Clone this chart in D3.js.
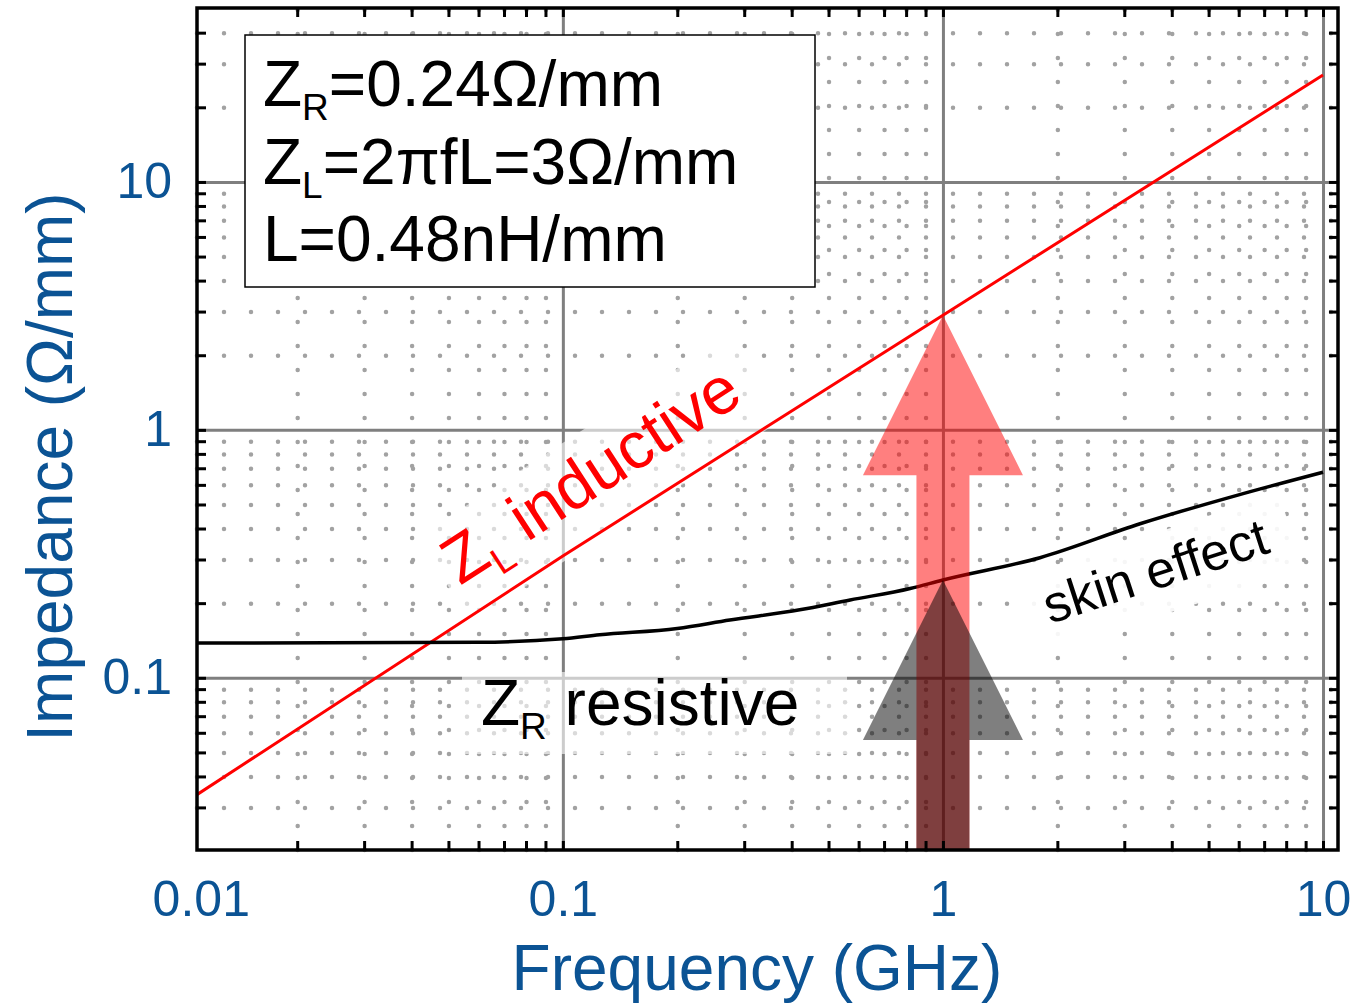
<!DOCTYPE html>
<html>
<head>
<meta charset="utf-8">
<script src="https://cdn.jsdelivr.net/npm/d3@7"></script>
<style>
  body { margin: 0; background: #fff; }
  svg text { font-family: Arial, "Liberation Sans", sans-serif; }
</style>
</head>
<body>
<script>
// Series (frequency in GHz, impedance in ohm/mm)
const freqL = [0.01, 0.1, 1, 10];
const zL = [0.031, 0.31, 2.9, 27];
const freqR = [0.01, 0.06, 0.1, 0.125, 0.2, 0.275, 0.42, 0.57, 0.82, 1, 1.8, 3.3, 6, 10];
const zR = [0.138, 0.139, 0.1436, 0.149, 0.158, 0.171, 0.188, 0.206, 0.229, 0.248, 0.305, 0.418, 0.547, 0.675];

// Axis ticks
const xMajor = [0.01, 0.1, 1, 10];
const xLabels = ["0.01", "0.1", "1", "10"];
const xMinor = [0.02, 0.03, 0.04, 0.05, 0.06, 0.07, 0.08, 0.09,
                0.2, 0.3, 0.4, 0.5, 0.6, 0.7, 0.8, 0.9,
                2, 3, 4, 5, 6, 7, 8, 9];
const yMajor = [0.1, 1, 10];
const yLabels = ["0.1", "1", "10"];
const yMinor = [0.03, 0.04, 0.05, 0.06, 0.07, 0.08, 0.09,
                0.2, 0.3, 0.4, 0.5, 0.6, 0.7, 0.8, 0.9,
                2, 3, 4, 5, 6, 7, 8, 9, 20, 30, 40];

const infoLines = [["Z", "R", "=0.24Ω/mm"], ["Z", "L", "=2πfL=3Ω/mm"], ["L=0.48nH/mm", "", ""]];

function drawChart() {
  var W = 1365, H = 1006;
  var left = 197, right = 1338, top = 8, bottom = 850;
  var blue = "#0b5394";

  var x = d3.scaleLog().domain([0.0109, 10.95]).range([left, right]);
  var y = d3.scaleLog().domain([0.0202, 50.3]).range([bottom, top]);

  // only decades that fall inside the plot get a grid line
  var xGrid = xMajor.filter(v => v >= x.domain()[0] && v <= x.domain()[1]);

  var svg = d3.select("body").append("svg")
    .attr("width", W).attr("height", H);

  // minor grid (dotted)
  svg.append("g")
    .attr("transform", "translate(0," + bottom + ")")
    .call(d3.axisBottom(x).tickValues(xMinor).tickSize(-(bottom - top)).tickFormat(""))
    .call(g => g.select(".domain").remove())
    .selectAll("line").attr("stroke", "#a2a2a2").attr("stroke-width", 4.5)
    .attr("stroke-dasharray", "0,24").attr("stroke-linecap", "round");
  svg.append("g")
    .attr("transform", "translate(" + left + ",0)")
    .call(d3.axisLeft(y).tickValues(yMinor).tickSize(-(right - left)).tickFormat(""))
    .call(g => g.select(".domain").remove())
    .selectAll("line").attr("stroke", "#a2a2a2").attr("stroke-width", 4.5)
    .attr("stroke-dasharray", "0,27").attr("stroke-linecap", "round");

  // major grid
  svg.append("g")
    .attr("transform", "translate(0," + bottom + ")")
    .call(d3.axisBottom(x).tickValues(xGrid).tickSize(-(bottom - top)).tickFormat(""))
    .call(g => g.select(".domain").remove())
    .selectAll("line").attr("stroke", "#7f7f7f").attr("stroke-width", 3);
  svg.append("g")
    .attr("transform", "translate(" + left + ",0)")
    .call(d3.axisLeft(y).tickValues(yMajor).tickSize(-(right - left)).tickFormat(""))
    .call(g => g.select(".domain").remove())
    .selectAll("line").attr("stroke", "#7f7f7f").attr("stroke-width", 3);

  // faded backgrounds behind the annotations
  svg.append("rect")
    .attr("x", 462).attr("y", 672).attr("width", 385).attr("height", 82)
    .attr("fill", "#fff").attr("opacity", 0.6);
  svg.append("rect")
    .attr("transform", "translate(460,586) rotate(-33)")
    .attr("x", -10).attr("y", -64).attr("width", 375).attr("height", 100)
    .attr("fill", "#fff").attr("opacity", 0.6);
  svg.append("rect")
    .attr("transform", "translate(1050,624) rotate(-18)")
    .attr("x", -12).attr("y", -54).attr("width", 270).attr("height", 80)
    .attr("fill", "#fff").attr("opacity", 0.9);

  // data lines
  svg.append("clipPath").attr("id", "plotclip")
    .append("rect").attr("x", left).attr("y", top)
    .attr("width", right - left).attr("height", bottom - top);

  var lineL = d3.line().x((d, i) => x(freqL[i])).y(d => y(d));
  svg.append("path")
    .attr("clip-path", "url(#plotclip)")
    .attr("d", lineL(zL))
    .attr("fill", "none").attr("stroke", "#ff0000").attr("stroke-width", 3);

  var lineR = d3.line().x((d, i) => x(freqR[i])).y(d => y(d)).curve(d3.curveMonotoneX);
  svg.append("path")
    .attr("clip-path", "url(#plotclip)")
    .attr("d", lineR(zR))
    .attr("fill", "none").attr("stroke", "#000").attr("stroke-width", 3.5);

  // annotations
  var tL = svg.append("text")
    .attr("transform", "translate(460,586) rotate(-33)")
    .attr("font-size", 66).attr("fill", "#ff0000");
  tL.append("tspan").text("Z");
  tL.append("tspan").attr("font-size", 38).attr("dy", 14).text("L");
  tL.append("tspan").attr("dy", -14).text(" inductive");

  var tR = svg.append("text")
    .attr("x", 481).attr("y", 725)
    .attr("font-size", 64).attr("fill", "#000");
  tR.append("tspan").text("Z");
  tR.append("tspan").attr("font-size", 37).attr("dy", 14).text("R");
  tR.append("tspan").attr("dy", -14).text(" resistive");

  svg.append("text")
    .attr("transform", "translate(1050,624) rotate(-18)")
    .attr("font-size", 52).attr("fill", "#000")
    .text("skin effect");

  // arrows at 1 GHz
  var fArrow = 1;
  var ax = x(fArrow);
  var shaft = 26.5, head = 80, headLen = 160;
  function arrowPath(tipY) {
    var p = d3.path();
    p.moveTo(ax, tipY);
    p.lineTo(ax + head, tipY + headLen);
    p.lineTo(ax + shaft, tipY + headLen);
    p.lineTo(ax + shaft, bottom);
    p.lineTo(ax - shaft, bottom);
    p.lineTo(ax - shaft, tipY + headLen);
    p.lineTo(ax - head, tipY + headLen);
    p.closePath();
    return p.toString();
  }
  svg.append("path")
    .attr("d", arrowPath(y(zL[freqL.indexOf(fArrow)])))
    .attr("fill", "#ff0000").attr("opacity", 0.5);
  svg.append("path")
    .attr("d", arrowPath(y(zR[freqR.indexOf(fArrow)])))
    .attr("fill", "#000").attr("opacity", 0.5);

  // inward ticks on all four sides
  var allX = xMinor.concat(xGrid);
  var allY = yMinor.concat(yMajor);
  function tickStyle(g) {
    g.select(".domain").remove();
    g.selectAll("line").attr("stroke", "#000").attr("stroke-width", 3);
  }
  svg.append("g").attr("transform", "translate(0," + bottom + ")")
    .call(d3.axisBottom(x).tickValues(allX).tickSize(-9).tickFormat("")).call(tickStyle);
  svg.append("g").attr("transform", "translate(0," + top + ")")
    .call(d3.axisTop(x).tickValues(allX).tickSize(-9).tickFormat("")).call(tickStyle);
  svg.append("g").attr("transform", "translate(" + left + ",0)")
    .call(d3.axisLeft(y).tickValues(allY).tickSize(-9).tickFormat("")).call(tickStyle);
  svg.append("g").attr("transform", "translate(" + right + ",0)")
    .call(d3.axisRight(y).tickValues(allY).tickSize(-9).tickFormat("")).call(tickStyle);

  // frame
  svg.append("rect")
    .attr("x", left).attr("y", top)
    .attr("width", right - left).attr("height", bottom - top)
    .attr("fill", "none").attr("stroke", "#000").attr("stroke-width", 3.5);

  // tick labels
  var xAx = svg.append("g").attr("transform", "translate(0," + bottom + ")")
    .call(d3.axisBottom(x).tickValues(xMajor).tickSize(0).tickPadding(30)
      .tickFormat((d, i) => xLabels[i]));
  xAx.select(".domain").remove();
  xAx.selectAll("text").attr("font-size", 50).attr("fill", blue)
    .attr("font-family", "Arial, 'Liberation Sans', sans-serif")
    .attr("dx", (d, i) => i === 0 ? 18 : 0);

  var yAx = svg.append("g").attr("transform", "translate(" + left + ",0)")
    .call(d3.axisLeft(y).tickValues(yMajor).tickSize(0).tickPadding(25)
      .tickFormat((d, i) => yLabels[i]));
  yAx.select(".domain").remove();
  yAx.selectAll("text").attr("font-size", 50).attr("fill", blue)
    .attr("font-family", "Arial, 'Liberation Sans', sans-serif");

  // axis titles
  svg.append("text")
    .attr("x", 757).attr("y", 990)
    .attr("text-anchor", "middle")
    .attr("font-size", 64).attr("fill", blue)
    .text("Frequency (GHz)");
  svg.append("text")
    .attr("transform", "translate(72,467) rotate(-90)")
    .attr("text-anchor", "middle")
    .attr("font-size", 64).attr("fill", blue)
    .text("Impedance (Ω/mm)");

  // info box
  svg.append("rect")
    .attr("x", 245).attr("y", 35).attr("width", 570).attr("height", 252)
    .attr("fill", "#fff").attr("stroke", "#000").attr("stroke-width", 1.5);
  infoLines.forEach(function(parts, i) {
    var t = svg.append("text")
      .attr("x", 263).attr("y", 106 + i * 77.5)
      .attr("font-size", 64).attr("fill", "#000");
    t.append("tspan").text(parts[0]);
    if (parts[1]) {
      t.append("tspan").attr("font-size", 37).attr("dy", 14).text(parts[1]);
      t.append("tspan").attr("dy", -14).text(parts[2]);
    }
  });
}

window.onload = function() {
  drawChart();
};
</script>
</body>
</html>
